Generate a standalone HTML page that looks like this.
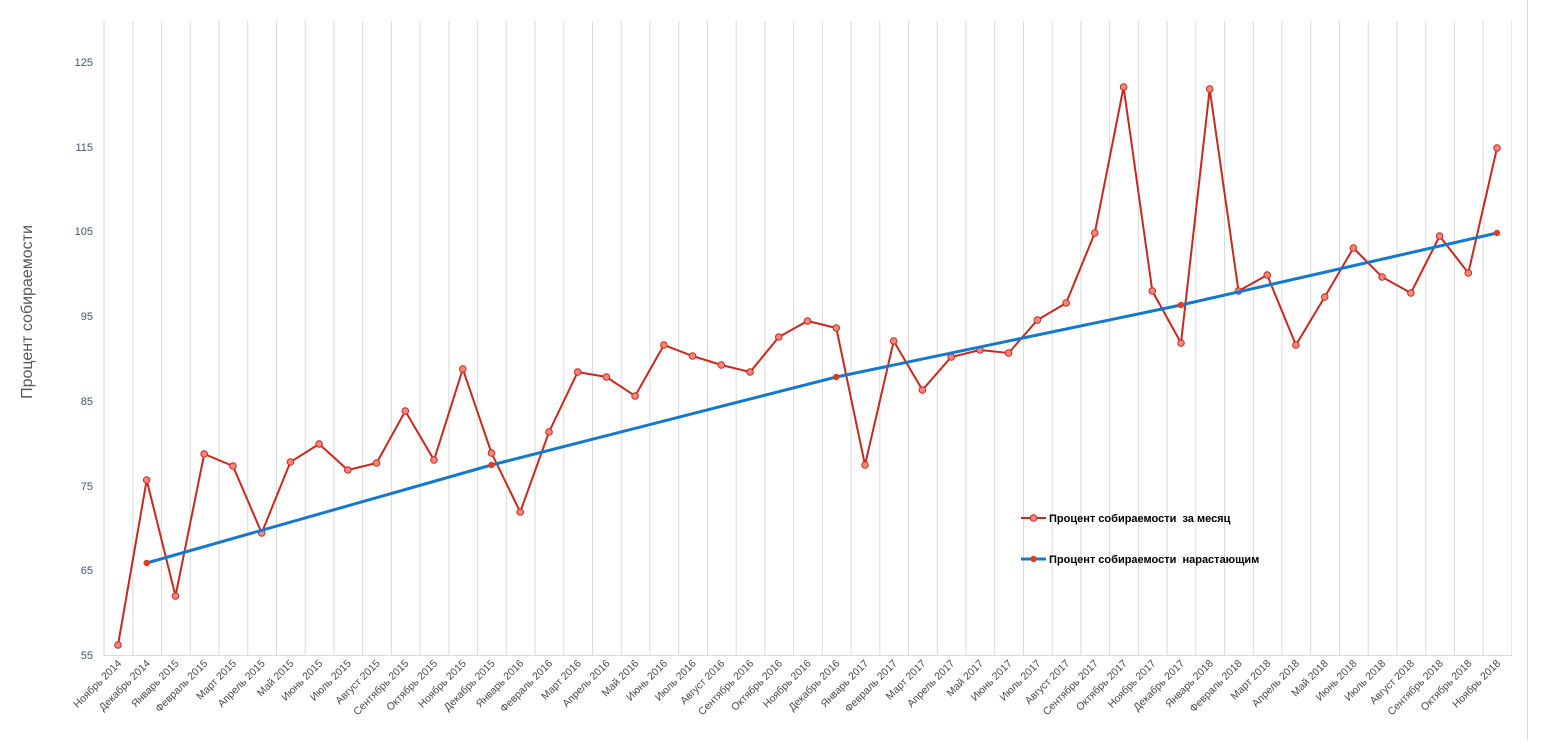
<!DOCTYPE html>
<html><head><meta charset="utf-8"><style>
html,body{margin:0;padding:0;background:#fff;}
svg{display:block;font-family:"Liberation Sans",sans-serif;}
</style></head><body>
<svg width="1542" height="742" viewBox="0 0 1542 742" xmlns="http://www.w3.org/2000/svg">
<defs>
<pattern id="g" x="103.6" y="0" width="28.73" height="742" patternUnits="userSpaceOnUse">
<line x1="0.5" y1="0" x2="0.5" y2="742" stroke="#d9d9d9" stroke-width="1"/>
</pattern>
</defs>
<rect x="103" y="21" width="1409" height="634" fill="url(#g)"/>
<line x1="103" y1="655.5" x2="1512" y2="655.5" stroke="#d9d9d9" stroke-width="1"/>
<line x1="1527.5" y1="0" x2="1527.5" y2="740" stroke="#d9d9d9" stroke-width="1"/>
<g font-size="11" fill="#44546a" text-anchor="end">
<text x="93" y="659">55</text><text x="93" y="574">65</text><text x="93" y="490">75</text>
<text x="93" y="405">85</text><text x="93" y="320">95</text><text x="93" y="235">105</text>
<text x="93" y="151">115</text><text x="93" y="66">125</text>
</g>
<text transform="translate(32,312) rotate(-90)" font-size="16" fill="#595959" text-anchor="middle">Процент собираемости</text>
<polyline fill="none" stroke="#c8281e" stroke-width="2" points="118,645 146.7,480 175.5,596 204.2,454 232.9,466 261.7,533 290.4,462 319.1,444 347.8,470 376.6,463 405.3,411 434,460 462.8,369 491.5,453 520.2,512 549,432 577.7,372 606.4,377 635.1,396 663.9,345 692.6,356 721.3,365 750.1,372 778.8,337 807.5,321 836.3,328 865,465 893.7,341 922.4,390 951.2,357 979.9,350 1008.6,353 1037.4,320 1066.1,303 1094.8,233 1123.6,87 1152.3,291 1181,343 1209.7,89 1238.5,291 1267.2,275 1295.9,345 1324.7,297 1353.4,248 1382.1,277 1410.9,293 1439.6,236 1468.3,273 1497,148"/>
<g fill="#f4877a" stroke="#c8281e" stroke-width="1">
<circle cx="118" cy="645" r="3.3"/><circle cx="146.7" cy="480" r="3.3"/><circle cx="175.5" cy="596" r="3.3"/><circle cx="204.2" cy="454" r="3.3"/><circle cx="232.9" cy="466" r="3.3"/><circle cx="261.7" cy="533" r="3.3"/><circle cx="290.4" cy="462" r="3.3"/><circle cx="319.1" cy="444" r="3.3"/><circle cx="347.8" cy="470" r="3.3"/><circle cx="376.6" cy="463" r="3.3"/><circle cx="405.3" cy="411" r="3.3"/><circle cx="434" cy="460" r="3.3"/><circle cx="462.8" cy="369" r="3.3"/><circle cx="491.5" cy="453" r="3.3"/><circle cx="520.2" cy="512" r="3.3"/><circle cx="549" cy="432" r="3.3"/><circle cx="577.7" cy="372" r="3.3"/><circle cx="606.4" cy="377" r="3.3"/><circle cx="635.1" cy="396" r="3.3"/><circle cx="663.9" cy="345" r="3.3"/><circle cx="692.6" cy="356" r="3.3"/><circle cx="721.3" cy="365" r="3.3"/><circle cx="750.1" cy="372" r="3.3"/><circle cx="778.8" cy="337" r="3.3"/><circle cx="807.5" cy="321" r="3.3"/><circle cx="836.3" cy="328" r="3.3"/><circle cx="865" cy="465" r="3.3"/><circle cx="893.7" cy="341" r="3.3"/><circle cx="922.4" cy="390" r="3.3"/><circle cx="951.2" cy="357" r="3.3"/><circle cx="979.9" cy="350" r="3.3"/><circle cx="1008.6" cy="353" r="3.3"/><circle cx="1037.4" cy="320" r="3.3"/><circle cx="1066.1" cy="303" r="3.3"/><circle cx="1094.8" cy="233" r="3.3"/><circle cx="1123.6" cy="87" r="3.3"/><circle cx="1152.3" cy="291" r="3.3"/><circle cx="1181" cy="343" r="3.3"/><circle cx="1209.7" cy="89" r="3.3"/><circle cx="1238.5" cy="291" r="3.3"/><circle cx="1267.2" cy="275" r="3.3"/><circle cx="1295.9" cy="345" r="3.3"/><circle cx="1324.7" cy="297" r="3.3"/><circle cx="1353.4" cy="248" r="3.3"/><circle cx="1382.1" cy="277" r="3.3"/><circle cx="1410.9" cy="293" r="3.3"/><circle cx="1439.6" cy="236" r="3.3"/><circle cx="1468.3" cy="273" r="3.3"/><circle cx="1497" cy="148" r="3.3"/>
</g>
<polyline fill="none" stroke="#1479cc" stroke-width="3" points="146.7,563 491.5,465 836.3,377 1181,305 1497,233"/>
<g fill="#e03c1e">
<circle cx="146.7" cy="563" r="3.2"/><circle cx="491.5" cy="465" r="3.2"/><circle cx="836.3" cy="377" r="3.2"/><circle cx="1181" cy="305" r="3.2"/><circle cx="1497" cy="233" r="3.2"/>
</g>
<g font-size="11" font-weight="bold" fill="#000">
<line x1="1021" y1="518" x2="1046" y2="518" stroke="#c8281e" stroke-width="2"/>
<circle cx="1033.5" cy="518" r="3.3" fill="#f4877a" stroke="#c8281e"/>
<text x="1049" y="522">Процент собираемости&#160; за месяц</text>
<line x1="1021" y1="559" x2="1046" y2="559" stroke="#1479cc" stroke-width="3"/>
<circle cx="1033.5" cy="559" r="3.2" fill="#e03c1e"/>
<text x="1049" y="563">Процент собираемости&#160; нарастающим</text>
</g>
<g font-size="10.5" fill="#4a4a4a" text-anchor="end">
<text transform="translate(122,664) rotate(-45)">Ноябрь 2014</text>
<text transform="translate(150.7,664) rotate(-45)">Декабрь 2014</text>
<text transform="translate(179.5,664) rotate(-45)">Январь 2015</text>
<text transform="translate(208.2,664) rotate(-45)">Февраль 2015</text>
<text transform="translate(236.9,664) rotate(-45)">Март 2015</text>
<text transform="translate(265.7,664) rotate(-45)">Апрель 2015</text>
<text transform="translate(294.4,664) rotate(-45)">Май 2015</text>
<text transform="translate(323.1,664) rotate(-45)">Июнь 2015</text>
<text transform="translate(351.8,664) rotate(-45)">Июль 2015</text>
<text transform="translate(380.6,664) rotate(-45)">Август 2015</text>
<text transform="translate(409.3,664) rotate(-45)">Сентябрь 2015</text>
<text transform="translate(438,664) rotate(-45)">Октябрь 2015</text>
<text transform="translate(466.8,664) rotate(-45)">Ноябрь 2015</text>
<text transform="translate(495.5,664) rotate(-45)">Декабрь 2015</text>
<text transform="translate(524.2,664) rotate(-45)">Январь 2016</text>
<text transform="translate(553,664) rotate(-45)">Февраль 2016</text>
<text transform="translate(581.7,664) rotate(-45)">Март 2016</text>
<text transform="translate(610.4,664) rotate(-45)">Апрель 2016</text>
<text transform="translate(639.1,664) rotate(-45)">Май 2016</text>
<text transform="translate(667.9,664) rotate(-45)">Июнь 2016</text>
<text transform="translate(696.6,664) rotate(-45)">Июль 2016</text>
<text transform="translate(725.3,664) rotate(-45)">Август 2016</text>
<text transform="translate(754.1,664) rotate(-45)">Сентябрь 2016</text>
<text transform="translate(782.8,664) rotate(-45)">Октябрь 2016</text>
<text transform="translate(811.5,664) rotate(-45)">Ноябрь 2016</text>
<text transform="translate(840.3,664) rotate(-45)">Декабрь 2016</text>
<text transform="translate(869,664) rotate(-45)">Январь 2017</text>
<text transform="translate(897.7,664) rotate(-45)">Февраль 2017</text>
<text transform="translate(926.4,664) rotate(-45)">Март 2017</text>
<text transform="translate(955.2,664) rotate(-45)">Апрель 2017</text>
<text transform="translate(983.9,664) rotate(-45)">Май 2017</text>
<text transform="translate(1012.6,664) rotate(-45)">Июнь 2017</text>
<text transform="translate(1041.4,664) rotate(-45)">Июль 2017</text>
<text transform="translate(1070.1,664) rotate(-45)">Август 2017</text>
<text transform="translate(1098.8,664) rotate(-45)">Сентябрь 2017</text>
<text transform="translate(1127.6,664) rotate(-45)">Октябрь 2017</text>
<text transform="translate(1156.3,664) rotate(-45)">Ноябрь 2017</text>
<text transform="translate(1185,664) rotate(-45)">Декабрь 2017</text>
<text transform="translate(1213.7,664) rotate(-45)">Январь 2018</text>
<text transform="translate(1242.5,664) rotate(-45)">Февраль 2018</text>
<text transform="translate(1271.2,664) rotate(-45)">Март 2018</text>
<text transform="translate(1299.9,664) rotate(-45)">Апрель 2018</text>
<text transform="translate(1328.7,664) rotate(-45)">Май 2018</text>
<text transform="translate(1357.4,664) rotate(-45)">Июнь 2018</text>
<text transform="translate(1386.1,664) rotate(-45)">Июль 2018</text>
<text transform="translate(1414.9,664) rotate(-45)">Август 2018</text>
<text transform="translate(1443.6,664) rotate(-45)">Сентябрь 2018</text>
<text transform="translate(1472.3,664) rotate(-45)">Октябрь 2018</text>
<text transform="translate(1501,664) rotate(-45)">Ноябрь 2018</text>
</g>
</svg>
</body></html>
